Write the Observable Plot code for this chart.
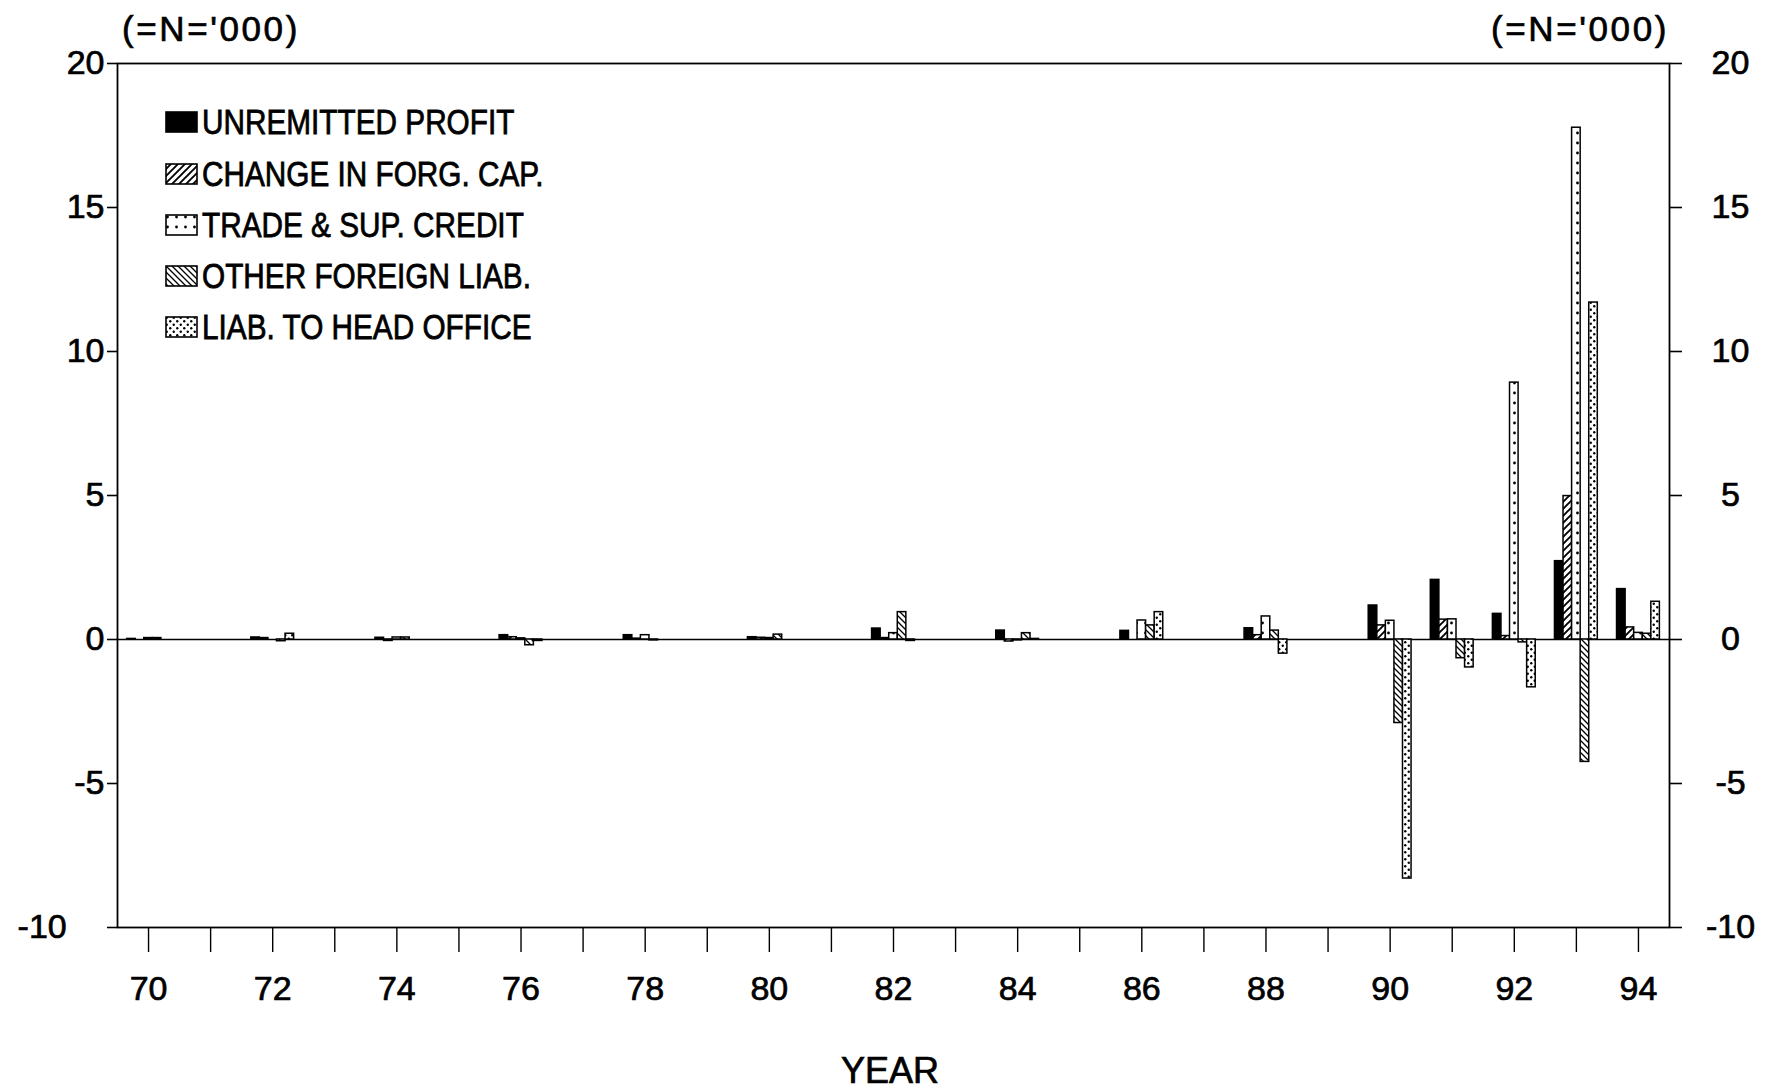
<!DOCTYPE html>
<html>
<head>
<meta charset="utf-8">
<script src="https://cdn.jsdelivr.net/npm/d3@7"></script>
<script src="https://cdn.jsdelivr.net/npm/@observablehq/plot@0.6"></script>
<style>
  html, body { margin: 0; padding: 0; background: #fff; }
  #wrap { position: relative; width: 1773px; height: 1090px; overflow: hidden;
          font-family: "Liberation Sans", Arial, Helvetica, sans-serif; color: #000; }
  #wrap svg.plot { position: absolute; left: 0; top: 0; }
  #wrap svg.plot text { stroke: #000; stroke-width: 0.7px; }
  .unit { position: absolute; top: 9px; font-size: 35px; letter-spacing: 2.6px; line-height: 40px; white-space: nowrap; -webkit-text-stroke: 0.7px #000; }
  .xlabel { position: absolute; top: 1051px; left: 0; width: 1780px; text-align: center; font-size: 36px; line-height: 40px; -webkit-text-stroke: 0.7px #000; }
  .lg-row { position: absolute; left: 165px; height: 40px; display: flex; align-items: center; white-space: nowrap; }
  .lg-row svg { flex: none; }
  .lg-text { display: inline-block; font-size: 35px; transform: scaleX(0.85); transform-origin: left center; margin-left: 4px; -webkit-text-stroke: 0.8px #000; }
</style>
</head>
<body>
<svg width="0" height="0" style="position:absolute">
  <defs>
    <pattern id="pChange" patternUnits="userSpaceOnUse" width="7" height="7">
      <rect width="7" height="7" fill="white"/>
      <path d="M-1,8 L8,-1 M-1,1 L1,-1 M6,8 L8,6" stroke="black" stroke-width="1.9"/>
    </pattern>
    <pattern id="pTrade" patternUnits="userSpaceOnUse" width="9" height="10">
      <rect width="9" height="10" fill="white"/>
      <circle cx="2.5" cy="3" r="1.4" fill="black"/>
    </pattern>
    <pattern id="pOther" patternUnits="userSpaceOnUse" width="6" height="6">
      <rect width="6" height="6" fill="white"/>
      <path d="M-1,-1 L7,7 M5,-1 L7,1 M-1,5 L1,7" stroke="black" stroke-width="1.3"/>
    </pattern>
    <pattern id="pLiab" patternUnits="userSpaceOnUse" width="7" height="7">
      <rect width="7" height="7" fill="white"/>
      <circle cx="1.75" cy="1.75" r="1.2" fill="black"/>
      <circle cx="5.25" cy="5.25" r="1.2" fill="black"/>
    </pattern>
  </defs>
</svg>
<div id="wrap"></div>
<script>
// ---- data (values in =N= '000) ----
const years = [70, 72, 74, 76, 78, 80, 82, 84, 86, 88, 90, 91, 92, 93, 94];
const seriesNames = ["UNREMITTED PROFIT", "CHANGE IN FORG. CAP.", "TRADE & SUP. CREDIT", "OTHER FOREIGN LIAB.", "LIAB. TO HEAD OFFICE"];
const unremittedProfit = [0.02, 0.07, 0.06, 0.15, 0.15, 0.08, 0.38, 0.31, 0.30, 0.39, 1.18, 2.07, 0.89, 2.72, 1.75];
const changeInForgCap  = [0.00, 0.05, -0.05, 0.08, 0.03, 0.06, 0.05, -0.07, 0.00, 0.15, 0.49, 0.69, 0.12, 4.98, 0.42];
const tradeSupCredit   = [0.05, 0.00, 0.07, 0.04, 0.15, 0.05, 0.22, -0.03, 0.66, 0.80, 0.65, 0.70, 8.92, 17.77, 0.23];
const otherForeignLiab = [0.05, -0.06, 0.07, -0.20, -0.03, 0.17, 0.95, 0.22, 0.49, 0.31, -2.90, -0.65, -0.10, -4.25, 0.20];
const liabHeadOffice   = [0.00, 0.20, 0.00, -0.05, 0.00, 0.00, -0.05, 0.02, 0.95, -0.49, -8.30, -0.97, -1.66, 11.70, 1.31];
const yTicks = [-10, -5, 0, 5, 10, 15, 20];
const xTicks = d3.range(70, 95);
const unitLabel = "(=N='000)";
const xAxisTitle = "YEAR";

// ---- styling ----
const patternFills = ["black", "url(#pChange)", "url(#pTrade)", "url(#pOther)", "url(#pLiab)"];
const seriesValues = [unremittedProfit, changeInForgCap, tradeSupCredit, otherForeignLiab, liabHeadOffice];
const groupWidth = 0.69;               // fraction of a year occupied by a group
const barW = groupWidth / seriesNames.length;

const table = [];
years.forEach((yr, j) => {
  seriesNames.forEach((name, i) => {
    const x1 = yr - groupWidth / 2 + i * barW;
    table.push({year: yr, series: name, value: seriesValues[i][j], x1, x2: x1 + barW});
  });
});

const chart = Plot.plot({
  width: 1773,
  height: 1090,
  marginLeft: 117,
  marginRight: 104,
  marginTop: 63,
  marginBottom: 163,
  x: {domain: [69.5, 94.5], axis: null},
  y: {domain: [-10, 20], axis: null},
  color: {domain: seriesNames, range: patternFills},
  style: {fontFamily: "'Liberation Sans', Arial, Helvetica, sans-serif", fontSize: "34px", color: "black", background: "white", overflow: "visible"},
  marks: [
    Plot.ruleY([0], {stroke: "black", strokeWidth: 1.6}),
    Plot.rect(table, {x1: "x1", x2: "x2", y1: 0, y2: "value", fill: "series", stroke: "black", strokeWidth: 1.5}),
    Plot.frame({stroke: "black", strokeWidth: 1.8}),
    Plot.axisY(yTicks, {anchor: "left", tickSize: 10, tickPadding: 3, strokeWidth: 1.6, label: null,
      tickFormat: d => d === -10 ? "-10\u00a0\u00a0\u00a0\u00a0" : String(d)}),
    Plot.axisY(yTicks, {anchor: "right", tickSize: 12, strokeWidth: 1.6, label: null, tickFormat: () => ""}),
    Plot.text(yTicks, {y: d => d, text: d => String(d), frameAnchor: "right", dx: 61, textAnchor: "middle", fontSize: 34}),
    Plot.axisX(xTicks, {anchor: "bottom", tickSize: 25, tickPadding: 23, strokeWidth: 1.4, label: null,
      tickFormat: d => d % 2 === 0 ? String(d) : ""})
  ]
});
chart.classList.add("plot");

const wrap = document.getElementById("wrap");
wrap.appendChild(chart);

// unit labels
const uL = document.createElement("div");
uL.className = "unit"; uL.style.left = "122px"; uL.textContent = unitLabel;
wrap.appendChild(uL);
const uR = document.createElement("div");
uR.className = "unit"; uR.style.right = "104px"; uR.textContent = unitLabel;
wrap.appendChild(uR);

// x-axis title
const xl = document.createElement("div");
xl.className = "xlabel"; xl.textContent = xAxisTitle;
wrap.appendChild(xl);

// legend
const legendCenters = [122, 174, 225, 276, 327];
seriesNames.forEach((name, i) => {
  const row = document.createElement("div");
  row.className = "lg-row";
  row.style.top = (legendCenters[i] - 20) + "px";
  row.innerHTML = `<svg width="33" height="22"><rect x="1" y="1" width="31" height="20" fill="${patternFills[i]}" stroke="black" stroke-width="1.6"/></svg><span class="lg-text">${name.replace("&", "&amp;")}</span>`;
  wrap.appendChild(row);
});
</script>
</body>
</html>
